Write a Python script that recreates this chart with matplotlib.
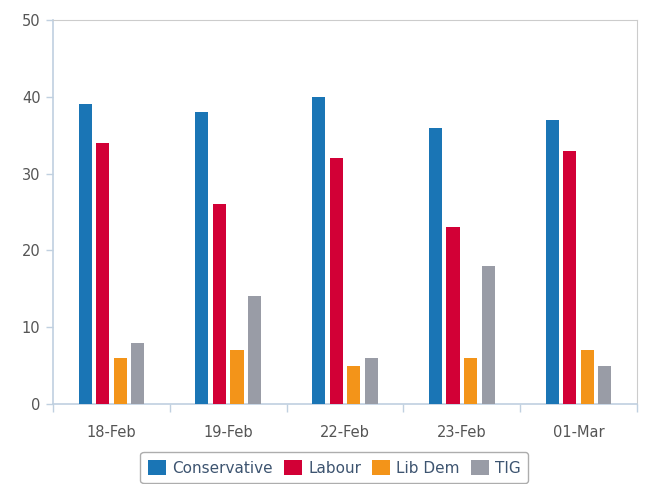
import numpy as np
import matplotlib
matplotlib.use('Agg')
import matplotlib.pyplot as plt

dates = ['18-Feb', '19-Feb', '22-Feb', '23-Feb', '01-Mar']
parties = ['Conservative', 'Labour', 'Lib Dem', 'TIG']
conservative = [39, 38, 40, 36, 37]
labour = [34, 26, 32, 23, 33]
lib_dem = [6, 7, 5, 6, 7]
tig = [8, 14, 6, 18, 5]
colors = ['#1a75b5', '#d20036', '#f39419', '#999ca6']

plt.rcParams['font.family'] = ['DejaVu Sans']

fig = plt.figure(figsize=(6.45, 4.84), dpi=100)
ax = fig.add_axes([53 / 645, 1 - 404 / 484, 584 / 645, 384 / 484])

x = np.arange(len(dates))
series = [conservative, labour, lib_dem, tig]
step = 0.15
width = 0.112
for i, (name, vals) in enumerate(zip(parties, series)):
    ax.bar(x + (i - 1.5) * step, vals, width, color=colors[i], label=name, zorder=3)

ax.set_xlim(-0.5, len(dates) - 0.5)
ax.set_ylim(0, 50)
ax.set_yticks(range(0, 51, 10))
ax.set_xticks(x)
ax.set_xticklabels(dates)
ax.set_xticks(np.arange(-0.5, len(dates)), minor=True)
ax.tick_params(axis='x', which='major', length=0, pad=15, labelsize=10.5, labelcolor='#555555')
ax.tick_params(axis='x', which='minor', length=6, color='#c0d0e0', width=1)
ax.tick_params(axis='y', length=5, color='#c0d0e0', width=1, labelsize=10.5, labelcolor='#555555', pad=4)

for side in ['top', 'right']:
    ax.spines[side].set_color('#cccccc')
for side in ['left', 'bottom']:
    ax.spines[side].set_color('#c0d0e0')
    ax.spines[side].set_linewidth(1.2)

leg = ax.legend(loc='upper center', bbox_to_anchor=(0.482, -0.105), ncol=4, frameon=True,
                fancybox=True, handlelength=1.2, handleheight=1.2, handletextpad=0.4,
                columnspacing=0.7, fontsize=11, borderpad=0.5)
leg.get_frame().set_edgecolor('#999999')
for t in leg.get_texts():
    t.set_color('#3d5470')

fig.savefig('out.png', dpi=100)
